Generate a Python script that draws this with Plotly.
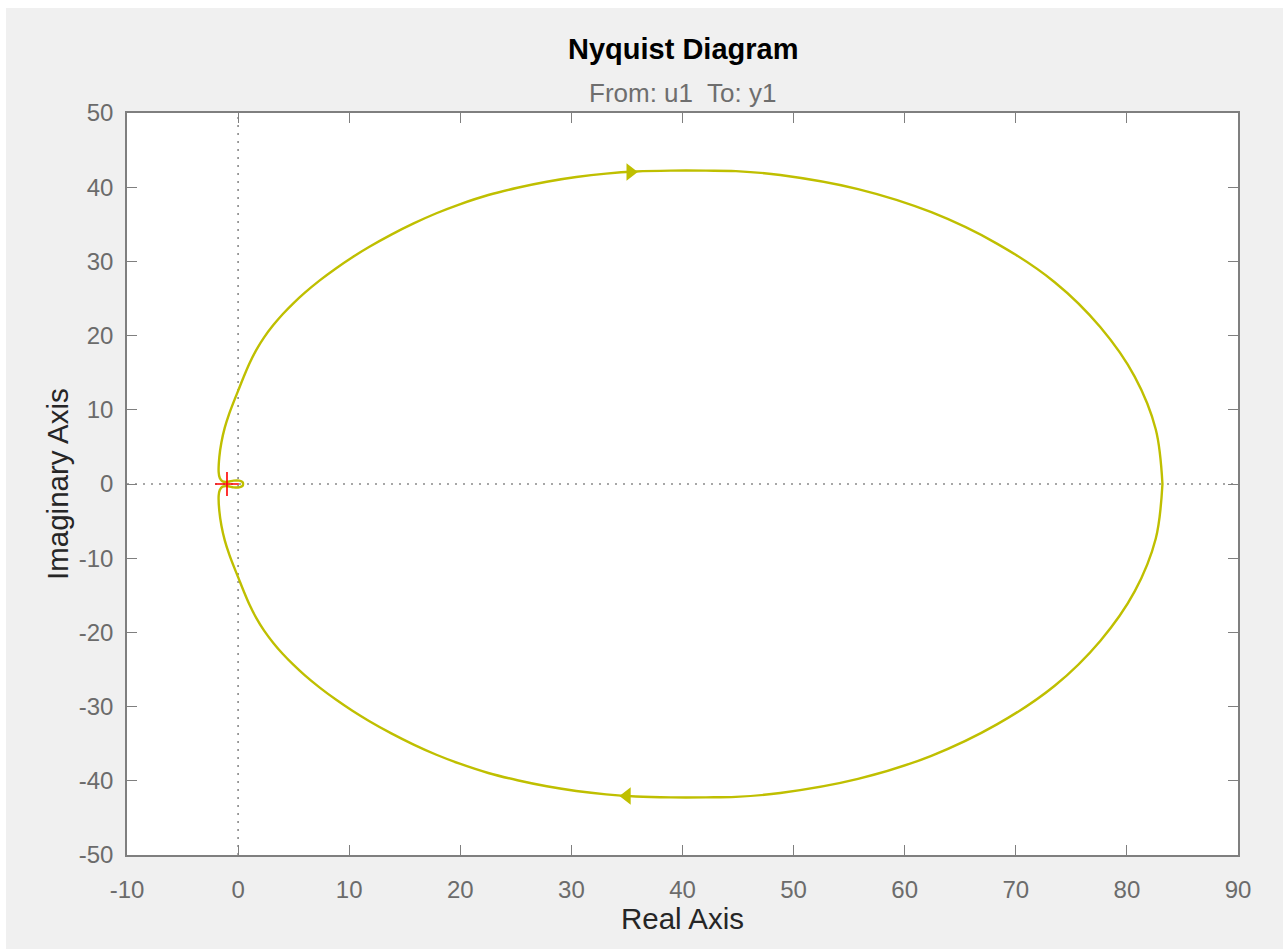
import plotly.graph_objects as go

# ---- data (Nyquist contour) ----
# negative-frequency branch: from origin out through upper half to DC point
upper_re = [0.45, 0.4, 0.1, -0.4, -0.9, -1.4, -1.65, -1.75,
            -1.69, -1.50, -1.20, -0.79, -0.31, 0.0,
            0.49, 1.02, 1.63, 2.34, 3.15, 4.03, 4.97, 5.96,
            7.35, 8.80, 10.29, 11.82, 13.79, 15.80, 17.85, 19.95,
            22.52, 25.14, 27.78, 30.44, 33.12, 35.81, 38.96, 42.11, 44.8, 48.8,
            55.8, 62.4, 68.3, 73.5, 77.6, 80.7, 82.6, 83.2]
upper_im = [0.0, 0.25, 0.45, 0.45, 0.3, 0.35, 0.8, 1.6,
            3.62, 5.62, 7.59, 9.52, 11.41, 12.55,
            14.38, 16.24, 18.04, 19.76, 21.38, 22.91, 24.35, 25.72,
            27.44, 29.05, 30.56, 31.97, 33.61, 35.12, 36.49, 37.70,
            38.95, 39.93, 40.74, 41.37, 41.83, 42.11, 42.23, 42.23, 42.17, 41.65,
            39.75, 36.63, 32.4, 27.19, 21.15, 14.47, 7.34, 0.0]
# positive-frequency branch: from DC point through lower half back to origin
lower_re = [83.2, 82.6, 80.7, 77.6, 73.5, 68.3, 62.4, 55.8,
            48.8, 44.8, 42.11, 38.96, 35.81, 33.12, 30.44, 27.78, 25.14, 22.52,
            19.95, 17.85, 15.80, 13.79, 11.82, 10.29, 8.80, 7.35,
            5.96, 4.97, 4.03, 3.15, 2.34, 1.63, 1.02, 0.49,
            0.0, -0.31, -0.79, -1.20, -1.50, -1.69,
            -1.75, -1.65, -1.4, -0.9, -0.4, 0.1, 0.4, 0.45]
lower_im = [0.0, -7.34, -14.47, -21.15, -27.19, -32.4, -36.63, -39.75,
            -41.65, -42.17, -42.23, -42.23, -42.11, -41.83, -41.37, -40.74, -39.93, -38.95,
            -37.70, -36.49, -35.12, -33.61, -31.97, -30.56, -29.05, -27.44,
            -25.72, -24.35, -22.91, -21.38, -19.76, -18.04, -16.24, -14.38,
            -12.55, -11.41, -9.52, -7.59, -5.62, -3.62,
            -1.6, -0.8, -0.35, -0.3, -0.45, -0.45, -0.25, 0.0]

arrow_re = [35.3, 35.0]
arrow_im = [42.05, -42.05]
arrow_symbols = ["triangle-right", "triangle-left"]

critical_re = [-1.0]
critical_im = [0.0]

x_ticks = [-10, 0, 10, 20, 30, 40, 50, 60, 70, 80, 90]
y_ticks = [-50, -40, -30, -20, -10, 0, 10, 20, 30, 40, 50]

CURVE = "#bfbf00"
FONT = "Liberation Sans, Arial, Helvetica, sans-serif"

fig = go.Figure()

fig.add_trace(go.Scatter(
    x=upper_re + lower_re, y=upper_im + lower_im,
    mode="lines", line=dict(color=CURVE, width=2.4, shape="spline", smoothing=1.0),
    hoverinfo="skip", showlegend=False))

fig.add_trace(go.Scatter(
    x=arrow_re, y=arrow_im, mode="markers",
    marker=dict(symbol=arrow_symbols, size=15, color=CURVE, line=dict(width=0)),
    showlegend=False))

fig.add_trace(go.Scatter(
    x=critical_re, y=critical_im, mode="markers",
    marker=dict(symbol="cross-thin", size=17, line=dict(color="#ff0000", width=1.6)),
    showlegend=False))

W, H = 1288, 950
ml, mr, mt, mb = 127, 50, 113, 95
pw, ph = W - ml - mr, H - mt - mb

def px(xp):
    return (xp - ml) / pw

def py(yp):
    return (H - mb - yp) / ph

shapes = [
    dict(type="rect", xref="paper", yref="paper", x0=px(6), x1=px(1283), y0=py(949), y1=py(8),
         fillcolor="#f0f0f0", line=dict(width=0), layer="below"),
    dict(type="rect", xref="paper", yref="paper", x0=0, x1=1, y0=0, y1=1,
         fillcolor="#ffffff", line=dict(width=0), layer="below"),
    dict(type="line", xref="x", yref="y", x0=0, x1=0, y0=-50, y1=50,
         line=dict(color="#8a8a8a", width=1.6, dash="2px,6px"), layer="below"),
    dict(type="line", xref="x", yref="y", x0=-10, x1=90, y0=0, y1=0,
         line=dict(color="#8a8a8a", width=1.6, dash="2px,6px"), layer="below"),
]

annotations = [
    dict(text="<b>Nyquist Diagram</b>", xref="paper", yref="paper", x=0.5, y=py(49),
         xanchor="center", yanchor="middle", showarrow=False,
         font=dict(family=FONT, size=29, color="#000000")),
    dict(text="From: u1\u00a0 To: y1", xref="paper", yref="paper", x=0.5, y=py(93),
         xanchor="center", yanchor="middle", showarrow=False,
         font=dict(family=FONT, size=26, color="#6e6e6e")),
    dict(text="Real Axis", xref="paper", yref="paper", x=0.5, y=py(918),
         xanchor="center", yanchor="middle", showarrow=False,
         font=dict(family=FONT, size=29.5, color="#262626")),
    dict(text="Imaginary Axis", xref="paper", yref="paper", x=px(57), y=0.5,
         xanchor="center", yanchor="middle", showarrow=False, textangle=-90,
         font=dict(family=FONT, size=29.5, color="#262626")),
]

axis_common = dict(
    showgrid=False, zeroline=False, showline=True, linecolor="#7f7f7f", linewidth=1.5,
    mirror="allticks", ticks="inside", ticklen=10, tickwidth=1.3, tickcolor="#7f7f7f",
    tickfont=dict(family=FONT, size=24, color="#6b6b6b"), fixedrange=True,
)

fig.update_layout(
    width=W, height=H,
    margin=dict(l=ml, r=mr, t=mt, b=mb, pad=0),
    paper_bgcolor="#ffffff", plot_bgcolor="#ffffff",
    xaxis=dict(range=[-10, 90], tickmode="array", tickvals=x_ticks,
               ticktext=[str(v) for v in x_ticks], ticklabelstandoff=12, **axis_common),
    yaxis=dict(range=[-50, 50], tickmode="array", tickvals=y_ticks,
               ticktext=[str(v) for v in y_ticks], ticklabelstandoff=7, **axis_common),
    shapes=shapes, annotations=annotations, showlegend=False,
)

fig.write_html("out.html")
